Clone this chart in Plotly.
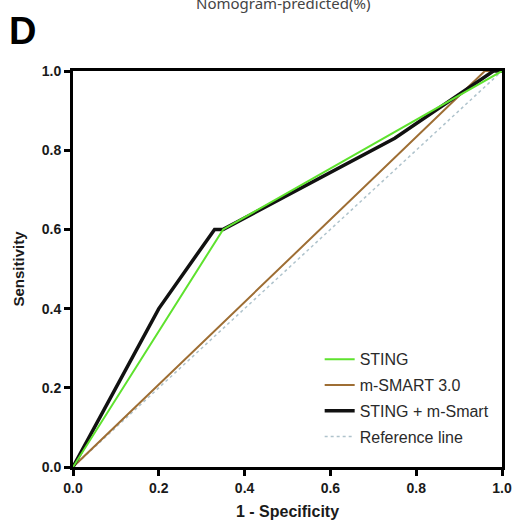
import plotly.graph_objects as go

# Data
sting_x = [0.0, 0.35, 1.0]
sting_y = [0.0, 0.60, 1.0]

msmart_x = [0.0, 0.96, 1.0]
msmart_y = [0.0, 1.0, 1.0]

combo_x = [0.0, 0.20, 0.33, 0.35, 0.75, 0.98, 1.0]
combo_y = [0.0, 0.40, 0.60, 0.60, 0.83, 1.0, 1.0]

ref_x = [0.0, 1.0]
ref_y = [0.0, 1.0]

tick_vals = [0.0, 0.2, 0.4, 0.6, 0.8, 1.0]
tick_text = ["0.0", "0.2", "0.4", "0.6", "0.8", "1.0"]

fig = go.Figure()
fig.add_trace(go.Scatter(x=ref_x, y=ref_y, mode="lines", name="Reference line",
                         line=dict(color="#AFC3CC", width=1.5, dash="dot"),
                         legendgroup="d", legendrank=4))
fig.add_trace(go.Scatter(x=msmart_x, y=msmart_y, mode="lines", name="m-SMART 3.0",
                         line=dict(color="#9E6E34", width=2),
                         legendgroup="b", legendrank=2))
fig.add_trace(go.Scatter(x=combo_x, y=combo_y, mode="lines", name="STING + m-Smart",
                         line=dict(color="#111111", width=3.5),
                         legendgroup="c", legendrank=3))
fig.add_trace(go.Scatter(x=sting_x, y=sting_y, mode="lines", name="STING",
                         line=dict(color="#5EE22E", width=2),
                         legendgroup="a", legendrank=1))

axis_common = dict(
    range=[0, 1], tickvals=tick_vals, ticktext=tick_text,
    showgrid=False, zeroline=False, automargin=False,
    showline=True, linecolor="black", linewidth=3, mirror=True,
    ticks="outside", ticklen=6, tickwidth=2.5, tickcolor="black",
    tickfont=dict(family="Liberation Sans", size=14, color="#1a1a1a", weight="bold"),
)

L, R, T, B = 73, 11, 71, 57
W, H = 513, 524
fig.update_layout(
    template="none",
    width=W, height=H,
    margin=dict(l=L, r=R, t=T, b=B, pad=0),
    paper_bgcolor="white", plot_bgcolor="white",
    xaxis=dict(**axis_common,
               title=dict(text="1 - Specificity", standoff=12,
                          font=dict(family="Liberation Sans", size=16, color="#1a1a1a", weight="bold"))),
    yaxis=dict(**axis_common,
               title=dict(text="Sensitivity", standoff=14,
                          font=dict(family="Liberation Sans", size=15, color="#1a1a1a", weight="bold"))),
    legend=dict(x=0.575, y=0.315, xanchor="left", yanchor="top",
                bgcolor="rgba(0,0,0,0)", itemwidth=30,
                traceorder="grouped", tracegroupgap=2,
                font=dict(family="Liberation Sans", size=16, color="#2a2a2a")),
    showlegend=True,
)

pw = W - L - R
ph = H - T - B
def px(xp):
    return (xp - L) / pw
def py(yp):
    return (H - B - yp) / ph

fig.add_annotation(text="D", x=px(7), y=py(31), xref="paper", yref="paper",
                   xanchor="left", yanchor="middle", showarrow=False,
                   font=dict(family="Liberation Sans", size=38, color="black", weight="bold"))
fig.add_annotation(text="Nomogram-predicted(%)", x=px(283), y=py(3), xref="paper", yref="paper",
                   xanchor="center", yanchor="middle", showarrow=False,
                   font=dict(family="Noto Sans", size=15, color="#444444"))

post = (
    "document.body.style.margin='0';"
    "document.body.style.padding='0';"
    "document.body.style.overflow='hidden';"
    "document.documentElement.style.overflow='hidden';"
    "var gd=document.getElementById('{plot_id}');"
    "if(window.Plotly&&gd){Plotly.Plots.resize(gd);}"
)
fig.write_html("out.html", post_script=post, config={"displayModeBar": False})
